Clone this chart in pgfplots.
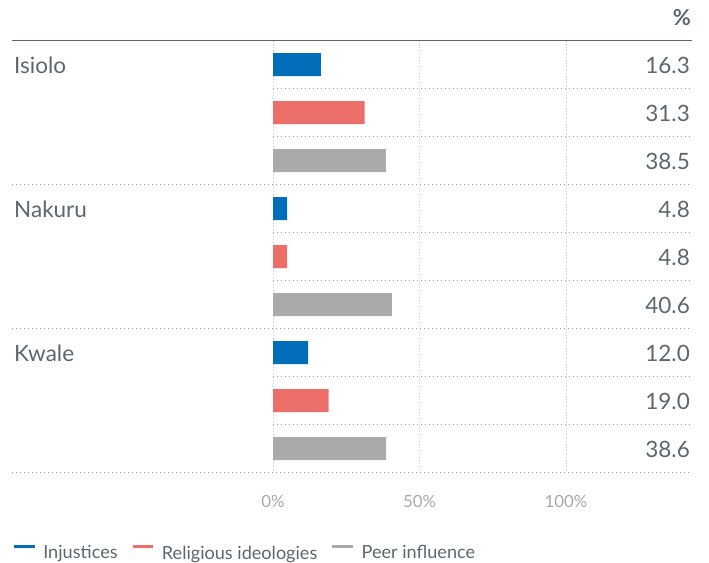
\documentclass[border=0pt]{standalone}
\usepackage{pgfplots}
\pgfplotsset{compat=1.18}
\usepackage{pgfplotstable}
\usepackage{fontspec}
\setmainfont{Lato}
\definecolor{cblue}{HTML}{006EB8}
\definecolor{cred}{HTML}{EB6E68}
\definecolor{cgray}{HTML}{AAAAAA}
\definecolor{ctext}{HTML}{5B6770}
\definecolor{ctick}{HTML}{A8A8A8}
\definecolor{cdot}{HTML}{9A9A9A}
\definecolor{cgrid}{HTML}{CDCDCD}

\pgfplotstableread{
row val
0 16.3
3 4.8
6 12.0
}\inj
\pgfplotstableread{
row val
1 31.3
4 4.8
7 19.0
}\rel
\pgfplotstableread{
row val
2 38.5
5 40.6
8 38.6
}\peer

\newcommand{\bigfont}{\fontsize{22.5}{26}\selectfont}
\pgfplotsset{valstyle/.style={forget plot, draw=none, mark=none, point meta=explicit,
  nodes near coords={\pgfmathprintnumber[fixed, fixed zerofill, precision=1]{\pgfplotspointmeta}},
  nodes near coords style={anchor=base east, xshift=-2pt, yshift=-8.3pt, font=\bigfont, text=ctext, inner sep=0pt}}}
\begin{document}
\begin{tikzpicture}
\begin{axis}[
  scale only axis, width=680pt, height=432pt,
  xmin=-89.08, xmax=143.0, ymin=-0.5, ymax=8.5, y dir=reverse,
  clip=false,
  axis line style={draw=none},
  major tick style={draw=none},
  ytick=\empty,
  xtick={0,50,100},
  xticklabels={0\%,50\%,100\%},
  xticklabel style={anchor=base, yshift=-34.5pt, font=\fontsize{16.8}{20}\selectfont, text=ctick, inner sep=0pt},
  xmajorgrids,
  grid style={cgrid, line width=1pt, dash pattern=on 1pt off 2.2pt},
  /pgf/number format/assume math mode=true,
  legend columns=3,
  legend cell align=left,
  legend style={at={(0,0)}, anchor=north west, xshift=0.5pt, yshift=-72.5pt,
    draw=none, fill=none, inner sep=0pt, outer sep=0pt,
    font=\fontsize{18.1}{21}\selectfont, text=ctext,
    nodes={inner sep=0pt},
    /tikz/every odd column/.append style={column sep=7pt},
    /tikz/every even column/.append style={column sep=13.5pt}},
  every axis plot/.append style={bar shift=0pt},
]
% separators
\draw[ctext, line width=1.5pt] (axis cs:-89.08,-0.5) -- (axis cs:143.0,-0.5);
\pgfplotsinvokeforeach{2.5,5.5,8.5}{
  \draw[cdot, line width=1.2pt, dash pattern=on 1.2pt off 2.8pt] (axis cs:-89.08,#1) -- (axis cs:143.0,#1);
}
\pgfplotsinvokeforeach{0.5,1.5,3.5,4.5,6.5,7.5}{
  \draw[cdot, line width=1.2pt, dash pattern=on 1.2pt off 2.8pt] (axis cs:0,#1) -- (axis cs:143.0,#1);
}

\addplot[xbar, bar width=0.48, fill=cblue, draw=none,
  legend image code/.code={\draw[cblue, line width=3.2pt] (0pt,6.3pt) -- (20.6pt,6.3pt);}]
  table[x=val, y=row]{\inj};
\addlegendentry{Injustices}
\addplot[xbar, bar width=0.48, fill=cred, draw=none,
  legend image code/.code={\draw[cred, line width=3.2pt] (0pt,6.3pt) -- (20.6pt,6.3pt);}]
  table[x=val, y=row]{\rel};
\addlegendentry{Religious ideologies}
\addplot[xbar, bar width=0.48, fill=cgray, draw=none,
  legend image code/.code={\draw[cgray, line width=3.2pt] (0pt,6.3pt) -- (20.6pt,6.3pt);}]
  table[x=val, y=row]{\peer};
\addlegendentry{Peer influence}

% value labels at right edge
\addplot[valstyle] table[x expr=143.0, y=row, meta=val]{\inj};
\addplot[valstyle] table[x expr=143.0, y=row, meta=val]{\rel};
\addplot[valstyle] table[x expr=143.0, y=row, meta=val]{\peer};

% category labels
\node[anchor=base west, inner sep=0pt, font=\bigfont, text=ctext] at ([xshift=2pt, yshift=-8.3pt]axis cs:-89.08,0) {Isiolo};
\node[anchor=base west, inner sep=0pt, font=\bigfont, text=ctext] at ([xshift=2pt, yshift=-8.3pt]axis cs:-89.08,3) {Nakuru};
\node[anchor=base west, inner sep=0pt, font=\bigfont, text=ctext] at ([xshift=2pt, yshift=-8.3pt]axis cs:-89.08,6) {Kwale};
\node[anchor=base east, inner sep=0pt, font=\fontsize{22}{26}\selectfont\bfseries, text=ctext] at ([xshift=-1pt, yshift=15.7pt]axis cs:143.0,-0.5) {\%};

\coordinate (tl) at (axis cs:-89.08,-0.5);
\coordinate (br) at (axis cs:143.0,8.5);
\end{axis}
\path ([shift={(-12pt,40.7pt)}]tl) rectangle ([shift={(17pt,-89.3pt)}]br);
\end{tikzpicture}
\end{document}
